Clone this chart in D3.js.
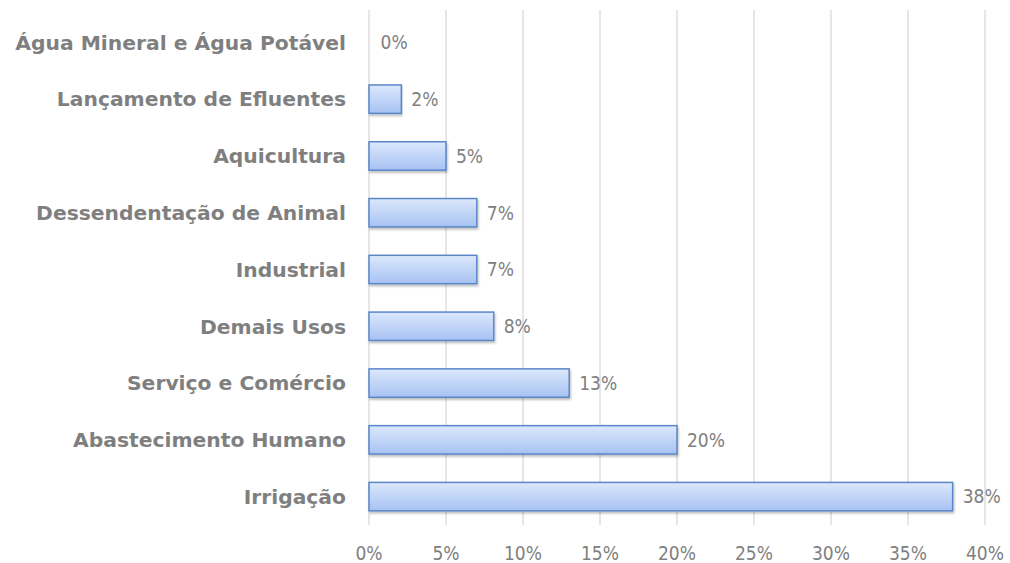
<!DOCTYPE html>
<html>
<head>
<meta charset="utf-8">
<script src="https://cdn.jsdelivr.net/npm/d3@7"></script>
<style>
  body { margin: 0; background: #fff; }
  svg { display: block; }
</style>
</head>
<body>
<svg id="chart" width="1010" height="563"></svg>
<script>
// categories top to bottom, values in percent
const categories = [
  "Água Mineral e Água Potável",
  "Lançamento de Efluentes",
  "Aquicultura",
  "Dessendentação de Animal",
  "Industrial",
  "Demais Usos",
  "Serviço e Comércio",
  "Abastecimento Humano",
  "Irrigação"
];
const values = [0.1, 2.1, 5.0, 7.0, 7.0, 8.1, 13.0, 20.0, 37.9];
const labels = ["0%", "2%", "5%", "7%", "7%", "8%", "13%", "20%", "38%"];
const ticks = [0, 5, 10, 15, 20, 25, 30, 35, 40];

const svg = d3.select("#chart");

const x = d3.scaleLinear().domain([0, 40]).range([369, 985]);
const y = d3.scaleBand().domain(categories).range([14, 525]).paddingInner(0.5).paddingOuter(0.25);

const defs = svg.append("defs");
const grad = defs.append("linearGradient")
  .attr("id", "barGrad").attr("x1", 0).attr("y1", 0).attr("x2", 0).attr("y2", 1);
grad.append("stop").attr("offset", "0%").attr("stop-color", "#dce8fc");
grad.append("stop").attr("offset", "100%").attr("stop-color", "#a7c2f3");

const shadow = defs.append("filter").attr("id", "shadow")
  .attr("x", "-5%").attr("y", "-20%").attr("width", "110%").attr("height", "160%");
shadow.append("feDropShadow").attr("dx", 1).attr("dy", 2).attr("stdDeviation", 1.2)
  .attr("flood-color", "#000").attr("flood-opacity", 0.25);

// gridlines
svg.append("g")
  .selectAll("line")
  .data(ticks)
  .join("line")
  .attr("x1", d => x(d)).attr("x2", d => x(d))
  .attr("y1", 10).attr("y2", 525)
  .attr("stroke", "#d9d9d9").attr("stroke-width", 1.3);

const numFont = "19px 'DejaVu Sans Condensed', sans-serif";

// tick labels
svg.append("g")
  .selectAll("text")
  .data(ticks)
  .join("text")
  .attr("x", d => x(d)).attr("y", 560)
  .attr("text-anchor", "middle")
  .attr("fill", "#808080")
  .style("font", numFont)
  .text(d => d + "%");

// bars
svg.append("g")
  .selectAll("rect")
  .data(values)
  .join("rect")
  .attr("x", x(0))
  .attr("y", (d, i) => y(categories[i]))
  .attr("width", d => x(d) - x(0))
  .attr("height", y.bandwidth())
  .attr("fill", "url(#barGrad)")
  .attr("stroke", "#5a87c8").attr("stroke-width", 1.5)
  .attr("filter", "url(#shadow)")
  .style("display", d => d < 0.5 ? "none" : null);

// value labels
svg.append("g")
  .selectAll("text")
  .data(values)
  .join("text")
  .attr("x", d => x(d) + 10)
  .attr("y", (d, i) => y(categories[i]) + y.bandwidth() / 2)
  .attr("dy", "0.36em")
  .attr("fill", "#808080")
  .style("font", numFont)
  .text((d, i) => labels[i]);

// category labels
svg.append("g")
  .selectAll("text")
  .data(categories)
  .join("text")
  .attr("x", 346)
  .attr("y", d => y(d) + y.bandwidth() / 2)
  .attr("dy", "0.36em")
  .attr("text-anchor", "end")
  .attr("fill", "#7f7f7f")
  .style("font", "bold 20.3px 'DejaVu Sans', sans-serif")
  .text(d => d);
</script>
</body>
</html>
